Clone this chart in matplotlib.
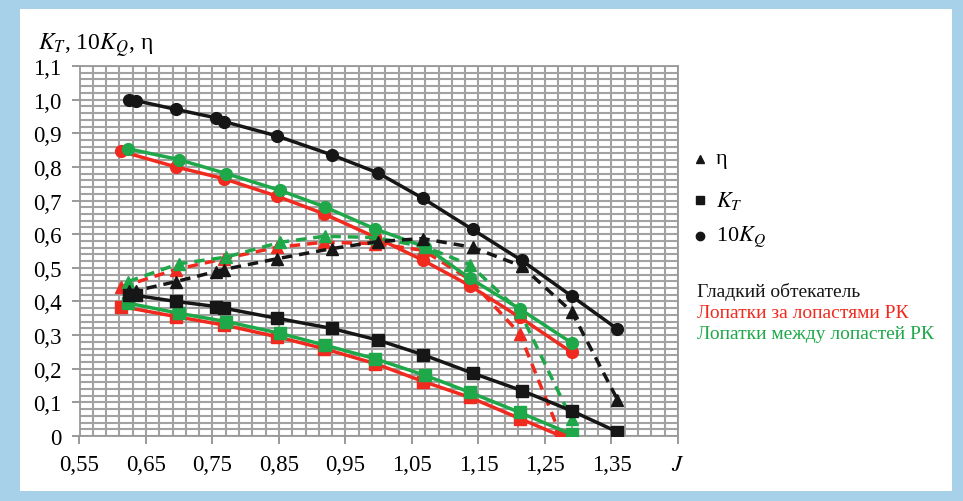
import numpy as np
import matplotlib
matplotlib.use("Agg")
import matplotlib.pyplot as plt
from matplotlib.lines import Line2D
from matplotlib.patches import Rectangle

plt.rcParams['font.family'] = ['Liberation Serif', 'DejaVu Serif']
plt.rcParams['mathtext.fontset'] = 'stix'

# Гладкий обтекатель (чёрный)
j_black = [0.625, 0.635, 0.695, 0.755, 0.767, 0.847, 0.929, 0.999, 1.066, 1.141, 1.215, 1.290, 1.359]
kq_black = [1.000, 0.997, 0.971, 0.946, 0.935, 0.892, 0.836, 0.782, 0.707, 0.614, 0.522, 0.416, 0.318]
kt_black = [0.420, 0.418, 0.400, 0.385, 0.380, 0.350, 0.320, 0.285, 0.242, 0.187, 0.135, 0.075, 0.012]
eta_black = [0.430, 0.432, 0.459, 0.489, 0.495, 0.527, 0.557, 0.578, 0.587, 0.561, 0.505, 0.370, 0.108]

# Лопатки за лопастями РК (красный)
j_red = [0.613, 0.695, 0.767, 0.847, 0.917, 0.995, 1.067, 1.137, 1.212, 1.290]
j_red_end = [0.613, 0.695, 0.767, 0.847, 0.917, 0.995, 1.067, 1.137, 1.212, 1.274]
kq_red = [0.846, 0.800, 0.765, 0.713, 0.661, 0.591, 0.522, 0.447, 0.353, 0.249]
kt_red = [0.385, 0.355, 0.330, 0.295, 0.260, 0.215, 0.162, 0.115, 0.052, 0.000]
eta_red = [0.443, 0.495, 0.527, 0.561, 0.576, 0.572, 0.552, 0.465, 0.304, 0.000]

# Лопатки между лопастей РК (зелёный)
j_green = [0.623, 0.699, 0.771, 0.852, 0.919, 0.994, 1.070, 1.137, 1.212, 1.290]
kq_green = [0.854, 0.822, 0.780, 0.730, 0.681, 0.616, 0.562, 0.469, 0.378, 0.277]
kt_green = [0.395, 0.365, 0.340, 0.305, 0.270, 0.230, 0.180, 0.130, 0.070, 0.005]
eta_green = [0.459, 0.512, 0.532, 0.576, 0.594, 0.590, 0.562, 0.509, 0.370, 0.050]

x_ticks = [0.55, 0.65, 0.75, 0.85, 0.95, 1.05, 1.15, 1.25, 1.35, 1.45]
x_labels = ['0,55', '0,65', '0,75', '0,85', '0,95', '1,05', '1,15', '1,25', '1,35', '$J$']
y_ticks = [0, 0.1, 0.2, 0.3, 0.4, 0.5, 0.6, 0.7, 0.8, 0.9, 1.0, 1.1]
y_labels = ['0', '0,1', '0,2', '0,3', '0,4', '0,5', '0,6', '0,7', '0,8', '0,9', '1,0', '1,1']

BLACK = '#161616'
RED = '#f02a1e'
GREEN = '#1fa84a'

W, H = 963, 502
fig = plt.figure(figsize=(W / 100, H / 100), dpi=100)
fig.patch.set_facecolor('#a6d1e8')
fig.add_artist(Rectangle((20 / W, 1 - 492 / H), (952 - 20) / W, (492 - 10) / H,
                         transform=fig.transFigure, facecolor='white', edgecolor='none', zorder=0))

ax = fig.add_axes([79.5 / W, 1 - 437 / H, (678 - 79.5) / W, (437 - 67) / H])
ax.set_facecolor('white')
ax.set_xlim(0.55, 1.45)
ax.set_ylim(0, 1.1)

ax.set_xticks(x_ticks)
ax.set_xticklabels(x_labels)
ax.set_yticks(y_ticks)
ax.set_yticklabels(y_labels)
ax.set_xticks(np.arange(0.55, 1.4501, 0.02), minor=True)
ax.set_yticks(np.arange(0, 1.1001, 0.02), minor=True)
ax.tick_params(which='minor', length=0)
ax.tick_params(which='major', length=6, width=1.2, color='#888888', labelsize=16.5, pad=7)
ax.grid(which='both', color='#a2a2a2', linewidth=1.5)
ax.set_axisbelow(True)
for s in ax.spines.values():
    s.set_color('#999999')
    s.set_linewidth(1.3)

lw = 2.5
ms = 8.5
for j, jend, kq, kt, eta, c in [
        (j_red, j_red_end, kq_red, kt_red, eta_red, RED),
        (j_green, j_green, kq_green, kt_green, eta_green, GREEN),
        (j_black, j_black, kq_black, kt_black, eta_black, BLACK)]:
    ax.plot(j, kq, '-o', color=c, lw=lw, ms=ms, zorder=3)
    ax.plot(jend, kt, '-s', color=c, lw=lw, ms=ms, zorder=3)
    ax.plot(jend, eta, '--^', color=c, lw=lw, ms=ms, dashes=(3, 2), zorder=3)

# подпись оси
fig.text(38 / W, 1 - 46 / H, r'$K_T$, 10$K_Q$, η', fontsize=17, va='center', ha='left')

# легенда маркеров
for yy, mk, lab in [(160, '^', 'η'), (201, 's', '$K_T$'), (237, 'o', '10$K_Q$')]:
    fig.add_artist(Line2D([700 / W], [1 - yy / H], marker=mk, color=BLACK, ms=6,
                          transform=fig.transFigure, linestyle='none'))
    fig.text(716 / W, 1 - yy / H, lab, fontsize=16, va='center', ha='left')

for yy, lab, c in [(292, 'Гладкий обтекатель', BLACK),
                   (313, 'Лопатки за лопастями РК', RED),
                   (335, 'Лопатки между лопастей РК', GREEN)]:
    fig.text(697 / W, 1 - yy / H, lab, fontsize=14, va='center', ha='left', color=c)

fig.savefig('out.png', dpi=100, facecolor=fig.get_facecolor())
